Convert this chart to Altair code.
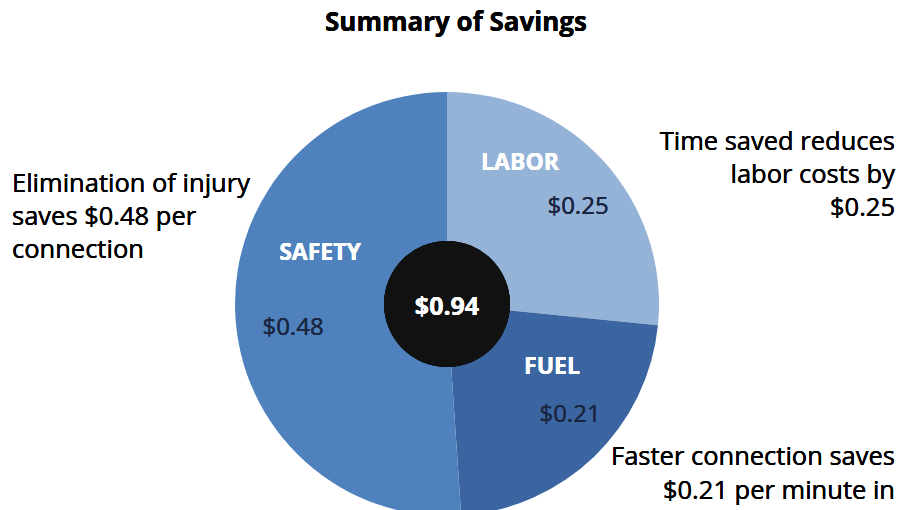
import altair as alt
import pandas as pd

# ---- data ----
categories = ["LABOR", "FUEL", "SAFETY"]
savings = [0.25, 0.21, 0.48]
total_label = "$0.94"
title_text = "Summary of Savings"
note_safety = ["Elimination of injury", "saves $0.48 per", "connection"]
note_labor = ["Time saved reduces", "labor costs by", "$0.25"]
note_fuel = ["Faster connection saves", "$0.21 per minute in"]

colors = ["#95b3d7", "#3a65a0", "#4f81bd"]
FONT = "Open Sans"

df = pd.DataFrame({
    "category": categories,
    "value": savings,
    "idx": list(range(len(categories))),
})

CX, CY, R = 439, 296, 212

pie = alt.Chart(df).mark_arc(radius=R).encode(
    theta=alt.Theta("value:Q", stack=True),
    color=alt.Color("category:N", scale=alt.Scale(domain=categories, range=colors), legend=None),
    order=alt.Order("idx:Q"),
    x=alt.value(CX),
    y=alt.value(CY),
)

hole = alt.Chart(df).mark_arc(radius=63, color="#111111").encode(
    theta=alt.value(0), theta2=alt.value(6.2832),
    x=alt.value(CX), y=alt.value(CY),
)


def label(text, x, y, size, color, weight="normal", align="center", baseline="middle", lh=None):
    props = dict(font=FONT, fontSize=size, color=color, fontWeight=weight,
                 align=align, baseline=baseline)
    if lh:
        props["lineHeight"] = lh
    return alt.Chart(df).mark_text(**props).encode(
        text=alt.value(text), x=alt.value(x), y=alt.value(y)
    )


def money(v):
    return f"${v:.2f}"


layers = [pie, hole]
label_pos = {"LABOR": ((512, 155), (570, 199)),
             "SAFETY": ((312, 245), (285, 320)),
             "FUEL": ((544, 359), (562, 407))}
for cat, val in zip(categories, savings):
    (nx, ny), (vx, vy) = label_pos[cat]
    layers.append(label(cat, nx, ny, 23, "white", weight="bold"))
    layers.append(label(money(val), vx, vy, 24, "#1b2742"))

layers.append(label(total_label, CX, 299, 25, "white", weight="bold"))
layers.append(label(title_text, 448, 23, 26, "black", weight="bold", baseline="alphabetic"))
layers.append(label(note_safety, 4, 184, 25.5, "black", align="left", baseline="alphabetic", lh=33))
layers.append(label(note_labor, 887, 142, 25.5, "black", align="right", baseline="alphabetic", lh=33))
layers.append(label(note_fuel, 887, 457, 25.5, "black", align="right", baseline="alphabetic", lh=34))

chart = alt.layer(*layers).properties(
    width=888, height=502, padding=0, background="white",
    autosize=alt.AutoSizeParams(type="none")
).configure_view(strokeWidth=0, stroke=None)

chart.save("out.html", embed_options={"renderer": "svg", "actions": False})
